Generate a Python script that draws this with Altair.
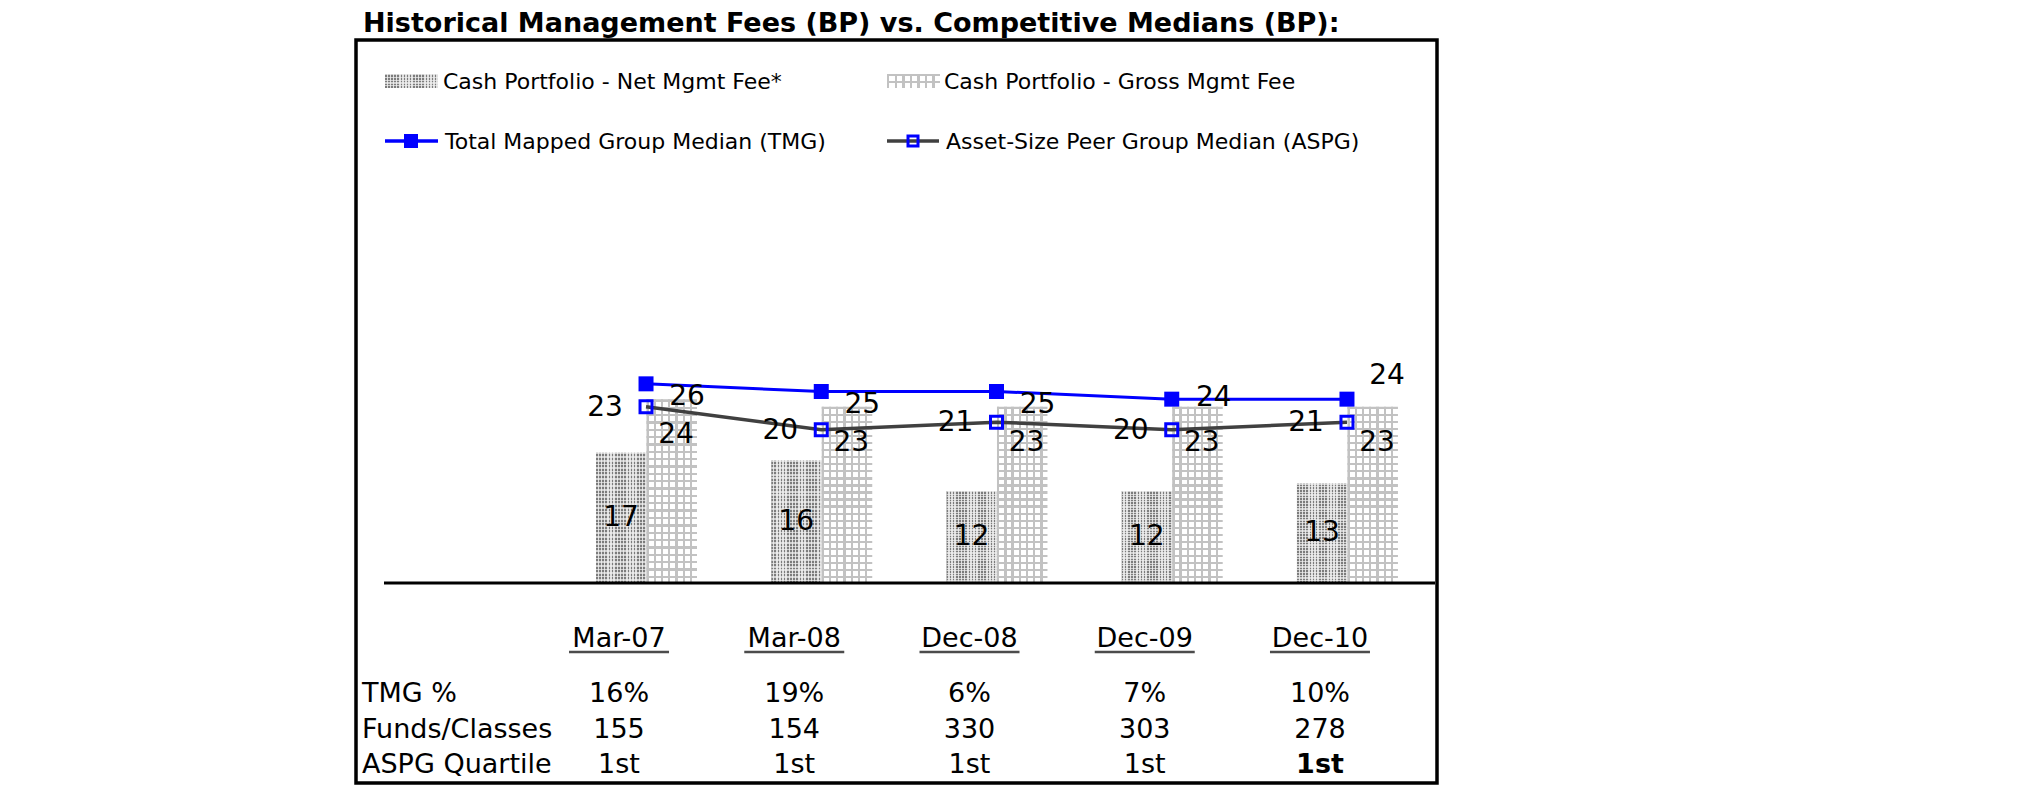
import altair as alt
import pandas as pd

# ---------------- data ----------------
categories = ["Mar-07", "Mar-08", "Dec-08", "Dec-09", "Dec-10"]
net_fee = [17, 16, 12, 12, 13]
gross_fee = [24, 23, 23, 23, 23]
tmg_median = [26, 25, 25, 24, 24]
aspg_median = [23, 20, 21, 20, 21]
tmg_pct = ["16%", "19%", "6%", "7%", "10%"]
funds_classes = ["155", "154", "330", "303", "278"]
aspg_quartile = ["1st", "1st", "1st", "1st", "1st"]
row_labels = ["TMG %", "Funds/Classes", "ASPG Quartile"]
series_names = [
    "Cash Portfolio - Net Mgmt Fee*",
    "Cash Portfolio - Gross Mgmt Fee",
    "Total Mapped Group Median (TMG)",
    "Asset-Size Peer Group Median (ASPG)",
]
title_text = "Historical Management Fees (BP) vs. Competitive Medians (BP):"

FONT = "DejaVu Sans"
W, H = 1081, 743

df = pd.DataFrame({
    "cat": categories, "net": net_fee, "gross": gross_fee,
    "tmg": tmg_median, "aspg": aspg_median,
    "pct": tmg_pct, "funds": funds_classes, "quart": aspg_quartile,
})
df_net = pd.DataFrame({"cat": categories, "series": "Net", "value": net_fee})
df_gross = pd.DataFrame({"cat": categories, "series": "Gross", "value": gross_fee})
one = pd.DataFrame({"k": [0]})


def stripes(n, on, off, frac, vertical):
    stops = []
    for i in range(n):
        a = i / n
        b = (i + frac) / n
        c = (i + 1) / n
        stops += [alt.GradientStop(offset=a, color=on), alt.GradientStop(offset=b, color=on),
                  alt.GradientStop(offset=b, color=off), alt.GradientStop(offset=c, color=off)]
    if vertical:
        return alt.LinearGradient(gradient="linear", stops=stops, x1=0, x2=1, y1=0, y2=0)
    return alt.LinearGradient(gradient="linear", stops=stops, x1=0, x2=0, y1=0, y2=1)


CLEAR = "rgba(255,255,255,0)"
gross_v = stripes(7, "#c2c2c2", "#ffffff", 0.32, True)
gross_h = stripes(25, "#c2c2c2", CLEAR, 0.32, False)
net_v = stripes(16, "#7c7c7c", "#dedede", 0.5, True)
net_h = stripes(36, "rgba(240,240,240,0.7)", CLEAR, 0.45, False)

leg_gross_v = stripes(7, "#c2c2c2", "#ffffff", 0.32, True)
leg_gross_h = stripes(2, "#c2c2c2", CLEAR, 0.32, False)
leg_net_v = stripes(17, "#7c7c7c", "#dedede", 0.5, True)
leg_net_h = stripes(5, "rgba(240,240,240,0.7)", CLEAR, 0.45, False)

# ---------------- scales ----------------
x_scale = alt.Scale(type="band", domain=categories, range=[202.4, 1078.6], paddingInner=0, paddingOuter=0)
tbl_scale = alt.Scale(type="band", domain=categories, range=[175.4, 1051.6], paddingInner=0, paddingOuter=0)
y_scale = alt.Scale(domain=[0, 30], range=[543, 313.2], nice=False, zero=True)
off_scale = alt.Scale(type="band", domain=["Net", "Gross"], range=[37.6, 138.6], paddingInner=0, paddingOuter=0)

X = alt.X("cat:N", scale=x_scale, axis=None)
Y = lambda f: alt.Y(f"{f}:Q", scale=y_scale, axis=None)
XO = alt.XOffset("series:N", scale=off_scale)
XT = alt.X("cat:N", scale=tbl_scale, axis=None)

layers = []

# bars
for d, fills in ((df_net, (net_v, net_h)), (df_gross, (gross_v, gross_h))):
    for fl in fills:
        layers.append(alt.Chart(d).mark_bar(fill=fl, stroke=None).encode(x=X, xOffset=XO, y=Y("value")))

# baseline
layers.append(alt.Chart(one).mark_rule(color="black", strokeWidth=3).encode(
    x=alt.value(28), x2=alt.value(1079), y=alt.Y(datum=0, scale=y_scale, axis=None)))

# lines
layers.append(alt.Chart(df).mark_line(color="#404040", strokeWidth=3.5).encode(x=X, y=Y("aspg")))
layers.append(alt.Chart(df).mark_line(color="#0000ff", strokeWidth=3).encode(x=X, y=Y("tmg")))
layers.append(alt.Chart(df).mark_point(shape="square", filled=True, size=225, color="#0000ff", opacity=1).encode(x=X, y=Y("tmg")))
layers.append(alt.Chart(df).mark_point(shape="square", filled=False, size=144, color="#0000ff", strokeWidth=3, opacity=1).encode(x=X, y=Y("aspg")))

# value labels
lbl = dict(font=FONT, fontSize=28, color="black", baseline="middle", align="center")
layers.append(alt.Chart(df).transform_calculate(half="datum.net/2").mark_text(dx=-25, **lbl).encode(
    x=X, y=Y("half"), text="net:Q"))
layers.append(alt.Chart(df).mark_text(dx=30, dy=36, **lbl).encode(x=X, y=Y("gross"), text="gross:Q"))
layers.append(alt.Chart(df).mark_text(dx=-41, dy=1, **lbl).encode(x=X, y=Y("aspg"), text="aspg:Q"))
layers.append(alt.Chart(df).transform_filter(alt.FieldOneOfPredicate(field="cat", oneOf=categories[:3]))
              .mark_text(dx=41, dy=13, **lbl).encode(x=X, y=Y("tmg"), text="tmg:Q"))
layers.append(alt.Chart(df).transform_filter(alt.FieldOneOfPredicate(field="cat", oneOf=[categories[3]]))
              .mark_text(dx=42, dy=-1, **lbl).encode(x=X, y=Y("tmg"), text="tmg:Q"))
layers.append(alt.Chart(df).transform_filter(alt.FieldOneOfPredicate(field="cat", oneOf=[categories[4]]))
              .mark_text(dx=40, dy=-23, **lbl).encode(x=X, y=Y("tmg"), text="tmg:Q"))

# legend
for sx, gv, gh in ((29, leg_net_v, leg_net_h), (531, leg_gross_v, leg_gross_h)):
    for g in (gv, gh):
        layers.append(alt.Chart(one).mark_rect(fill=g).encode(
            x=alt.value(sx), x2=alt.value(sx + 53), y=alt.value(34), y2=alt.value(48)))
leg_txt = dict(font=FONT, fontSize=22, color="black", baseline="middle", align="left")
layers.append(alt.Chart(one).mark_text(text=series_names[0], **leg_txt).encode(x=alt.value(87), y=alt.value(42)))
layers.append(alt.Chart(one).mark_text(text=series_names[1], **leg_txt).encode(x=alt.value(588), y=alt.value(42)))
layers.append(alt.Chart(one).mark_rule(color="#0000ff", strokeWidth=3.5).encode(
    x=alt.value(29), x2=alt.value(82), y=alt.value(101)))
layers.append(alt.Chart(one).mark_point(shape="square", filled=True, size=196, color="#0000ff", opacity=1).encode(
    x=alt.value(55), y=alt.value(101)))
layers.append(alt.Chart(one).mark_rule(color="#404040", strokeWidth=3.5).encode(
    x=alt.value(531), x2=alt.value(583), y=alt.value(101)))
layers.append(alt.Chart(one).mark_point(shape="square", filled=False, size=100, color="#0000ff", strokeWidth=3, opacity=1).encode(
    x=alt.value(557), y=alt.value(101)))
layers.append(alt.Chart(one).mark_text(text=series_names[2], **leg_txt).encode(x=alt.value(89), y=alt.value(102)))
layers.append(alt.Chart(one).mark_text(text=series_names[3], **leg_txt).encode(x=alt.value(590), y=alt.value(102)))

# title
layers.append(alt.Chart(one).mark_text(text=title_text, font=FONT, fontSize=27, fontWeight="bold",
                                       color="black", align="left", baseline="alphabetic").encode(
    x=alt.value(7), y=alt.value(-8)))

# table
tbl = dict(font=FONT, fontSize=27, color="black", baseline="alphabetic", align="center")
layers.append(alt.Chart(df).mark_text(**tbl).encode(x=XT, y=alt.value(607), text="cat:N"))
layers.append(alt.Chart(df).mark_tick(orient="horizontal", size=100, thickness=2.5, color="black").encode(
    x=XT, y=alt.value(612)))
row_y = [662, 698, 733]
row_fields = ["pct", "funds", "quart"]
for lab, ry, fld in zip(row_labels, row_y, row_fields):
    layers.append(alt.Chart(one).mark_text(text=lab, font=FONT, fontSize=27, color="black",
                                           align="left", baseline="alphabetic").encode(
        x=alt.value(6), y=alt.value(ry)))
    src = alt.Chart(df)
    if fld == "quart":
        src = src.transform_filter(alt.FieldOneOfPredicate(field="cat", oneOf=categories[:4]))
    layers.append(src.mark_text(**tbl).encode(x=XT, y=alt.value(ry), text=f"{fld}:N"))
layers.append(alt.Chart(df).transform_filter(alt.FieldOneOfPredicate(field="cat", oneOf=[categories[4]]))
              .mark_text(fontWeight="bold", **tbl).encode(x=XT, y=alt.value(733), text="quart:N"))

chart = alt.layer(*layers).resolve_scale(x="independent").properties(
    width=W, height=H,
    autosize=alt.AutoSizeParams(type="none"),
    padding={"left": 348, "top": 32, "right": 20, "bottom": 10},
    background="white",
).configure_view(stroke="black", strokeWidth=3.5)

chart.save("out.html", embed_options={"renderer": "svg", "actions": False})
